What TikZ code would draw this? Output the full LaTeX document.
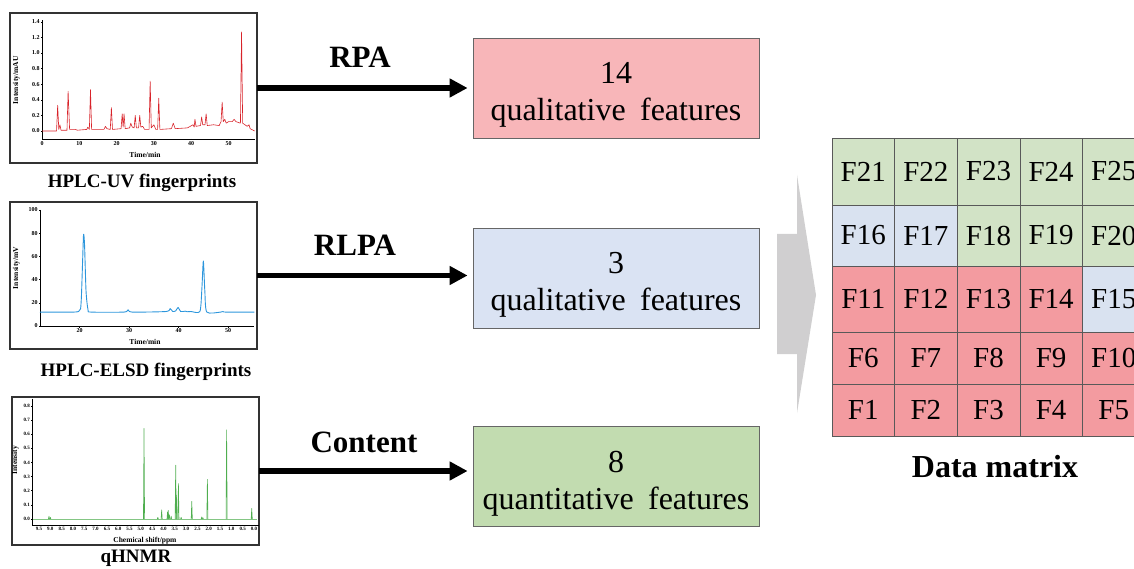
\documentclass[tikz,border=0pt]{standalone}
\usepackage{fontspec}
\setmainfont{Liberation Serif}
\usetikzlibrary{arrows.meta}

\definecolor{boxred}{HTML}{F8B6B9}
\definecolor{boxblue}{HTML}{DAE3F3}
\definecolor{boxgreen}{HTML}{C2DCB0}
\definecolor{mred}{HTML}{F39BA0}
\definecolor{mblue}{HTML}{D9E2F0}
\definecolor{mgreen}{HTML}{D2E3C6}
\definecolor{bigarrow}{HTML}{D0CFD0}
\definecolor{uvred}{HTML}{D8232A}
\definecolor{elsdblue}{HTML}{2C96DC}
\definecolor{nmrgreen}{HTML}{4FAE4F}
\definecolor{frame}{HTML}{333333}

\tikzset{
  panel/.style={draw=frame, line width=1.3pt, minimum width=247pt, minimum height=150pt, inner sep=0pt, outer sep=0pt},
  axisline/.style={line width=0.5pt, black},
  ticklab/.style={font=\fontsize{6}{6.5}\selectfont\bfseries, inner sep=0.6pt},
  nmrlab/.style={font=\fontsize{5}{5.5}\selectfont\bfseries, inner sep=0.6pt},
  axlab/.style={font=\fontsize{7.5}{8}\selectfont\bfseries, inner sep=0pt},
  caption/.style={font=\fontsize{19}{21}\selectfont\bfseries},
  method/.style={font=\fontsize{31}{34}\selectfont\bfseries},
  featbox/.style={draw=black!60, line width=0.8pt, minimum width=286pt, minimum height=100pt, inner sep=0pt},
  feattext/.style={align=center, font=\fontsize{32}{37}\selectfont, inner sep=0pt},
  flow/.style={line width=5.5pt, -{Triangle[length=18pt,width=18pt]}, shorten >=5pt},
  cell/.style={draw=black!65, line width=0.6pt, inner sep=0pt, outer sep=0pt,
               font=\fontsize{29}{32}\selectfont},
}

\begin{document}
\begin{tikzpicture}[x=1pt,y=-1pt]
\useasboundingbox (0,0) rectangle (1134,569);

% ---------- chromatogram / spectrum panels ----------
\node[panel] (uv)   at (133.5,88)   {};
\node[panel, minimum height=147pt] (elsd) at (133.5,275.5) {};
\node[panel, minimum height=148pt] (nmr)  at (135.5,471) {};

% HPLC-UV chromatogram
\begin{scope}[shift={(42,131)}, x=3.73pt, y=78pt]
  \draw[axisline] (0,1.42) -- (0,-0.1) -- (57,-0.1);
  \foreach \v in {0.0,0.2,0.4,0.6,0.8,1.0,1.2,1.4}
    \draw[axisline] (0,\v) -- ++(-1.5pt,0) node[left, ticklab] {\v};
  \foreach \t in {0,10,20,30,40,50}
    \draw[axisline] (\t,-0.1) -- ++(0,-1.5pt) node[below, ticklab] {\t};
  \node[axlab, rotate=90] at (-6.9,0.65) {Intensity/mAU};
  \node[axlab] at (27.6,-0.31) {Time/min};
  \draw[uvred, line width=0.6pt, line join=round] plot coordinates {
    (0,0) (3.9,0) (4.2,0.33) (4.5,0.02) (4.8,0.08) (5.1,0.01) (6.7,0.01) (7.0,0.51) (7.4,0.02)
    (9,0.02) (9.5,0.01) (12,0.02) (12.3,0.05) (12.7,0.02) (13.0,0.53) (13.3,0.02) (16.6,0.02)
    (17,0.06) (17.4,0.03) (18.3,0.02) (18.6,0.30) (18.9,0.02) (21.2,0.03) (21.5,0.22) (21.75,0.05)
    (22,0.22) (22.3,0.03) (23.5,0.04) (23.8,0.10) (24.2,0.05) (24.7,0.04) (25,0.20) (25.3,0.04)
    (25.9,0.04) (26.2,0.20) (26.5,0.05) (27,0.06) (27.5,0.02) (28.7,0.02) (29,0.64) (29.3,0.04)
    (30,0.08) (30.5,0.02) (31,0.02) (31.3,0.42) (31.6,0.02) (34.7,0.03) (35.2,0.10) (35.7,0.03)
    (39,0.04) (40.5,0.08) (40.8,0.05) (41,0.15) (41.3,0.06) (42.5,0.07) (42.8,0.18) (43.1,0.08)
    (43.7,0.08) (44,0.22) (44.3,0.07) (46,0.08) (47.5,0.07) (48,0.12) (48.3,0.37) (48.6,0.12)
    (49,0.15) (49.4,0.10) (50,0.12) (51,0.12) (51.5,0.15) (52,0.12) (53.2,0.10) (53.5,1.27)
    (53.8,0.10) (55,0.06) (55.5,0.08) (55.8,0.03) (57,0.0)};
\end{scope}

% HPLC-ELSD chromatogram
\begin{scope}[shift={(-19.4,326)}, x=4.95pt, y=1.16pt]
  \draw[axisline] (12,100) -- (12,0) -- (55.3,0);
  \foreach \v in {0,20,40,60,80,100}
    \draw[axisline] (12,\v) -- ++(-1.5pt,0) node[left, ticklab] {\v};
  \foreach \t in {20,30,40,50}
    \draw[axisline] (\t,0) -- ++(0,-1.5pt) node[below, ticklab] {\t};
  \node[axlab, rotate=90] at (7.2,50) {Intensity/mV};
  \node[axlab] at (33.2,-13.8) {Time/min};
  \draw[elsdblue, line width=0.9pt, line join=round] plot[smooth, tension=0.4] coordinates {
    (12,12) (16,12) (19.8,12.5) (20.3,20) (20.6,55) (20.8,79) (21.0,70) (21.3,30) (21.7,14)
    (22.3,12) (29,12) (29.8,14) (30.6,12) (37.5,12.5) (38.3,15) (38.8,12.5) (39.4,13) (39.9,16)
    (40.4,12.5) (41.0,12.5) (41.3,12.8) (41.8,12.3) (42.5,12.5) (44.3,12.5) (44.7,32) (45,56)
    (45.3,30) (45.7,12) (48.5,12) (49,12.5) (49.5,12) (55.3,12)};
\end{scope}

% qHNMR spectrum
\begin{scope}[shift={(254,519)}, x=-22.63pt, y=141.5pt]
  \draw[axisline] (9.8,0.85) -- (9.8,-0.042) -- (-0.2,-0.042);
  \foreach \v in {0.0,0.1,0.2,0.3,0.4,0.5,0.6,0.7,0.8}
    \draw[axisline] (9.8,\v) -- ++(-1.5pt,0) node[left, nmrlab] {\v};
  \foreach \p in {9.5,9.0,8.5,8.0,7.5,7.0,6.5,6.0,5.5,5.0,4.5,4.0,3.5,3.0,2.5,2.0,1.5,1.0,0.5,0.0}
    \draw[axisline] (\p,-0.042) -- ++(0,-1.5pt) node[below, nmrlab] {\p};
  \node[axlab, rotate=90] at (10.55,0.417) {Intensity};
  \node[axlab] at (4.82,-0.15) {Chemical shift/ppm};
  \draw[nmrgreen!70, line width=0.5pt] (9.75,0) -- (-0.15,0);
  \foreach \p/\h in {9.06/0.02, 9.0/0.012, 4.86/0.64, 4.25/0.012, 4.08/0.065, 3.82/0.05,
                     3.79/0.06, 3.74/0.03, 3.66/0.02, 3.46/0.38, 3.42/0.17, 3.34/0.25,
                     3.22/0.012, 2.75/0.125, 2.31/0.015, 2.26/0.01, 2.06/0.28, 1.21/0.63, 0.1/0.075}
    \draw[nmrgreen, line width=0.6pt, line join=round] ({\p+0.025},0) -- (\p,\h) -- ({\p-0.025},0);
\end{scope}

% panel captions
\node[caption] (uvcap)   at (142,183) {HPLC-UV fingerprints};
\node[caption] (elsdcap) at (146,372) {HPLC-ELSD fingerprints};
\node[caption] (nmrcap)  at (136,558) {qHNMR};

% ---------- feature boxes ----------
\node[featbox, fill=boxred]   (rpa)     at (616,88)    {};
\node[featbox, fill=boxblue]  (rlpa)    at (616,278)   {};
\node[featbox, fill=boxgreen] (content) at (616,476.5) {};
\node[feattext] (rpatxt) at ([yshift=-7pt]rpa.center)     {14\\qualitative\hspace{0.45em}features};
\node[feattext] (rlptxt) at ([yshift=-7pt]rlpa.center)    {3\\qualitative\hspace{0.45em}features};
\node[feattext] (contxt) at ([yshift=-7pt]content.center) {8\\quantitative\hspace{0.45em}features};

% ---------- method arrows ----------
\draw[flow] (uv.east)   -- (uv.east -| rpa.west);
\draw[flow] (elsd.east) -- (elsd.east -| rlpa.west);
\draw[flow] (nmr.east)  -- (nmr.east -| content.west);
\node[method] (rpalab)  at (360,57)  {RPA};
\node[method] (rlpalab) at (355,245) {RLPA};
\node[method] (conlab)  at (364,442) {Content};

% ---------- merge arrow ----------
\fill[bigarrow] (777,234) -- (797,234) -- (797,175) -- (816,295) -- (797,413)
                -- (797,354) -- (777,354) -- cycle;

% ---------- data matrix ----------
\foreach \r/\top/\h in {5/138/67, 4/205/61, 3/266/66, 2/332/52, 1/384/52} {
  \foreach \c in {1,...,5} {
    \pgfmathtruncatemacro\n{(\r-1)*5+\c}
    \ifnum\n<15 \def\fc{mred}\else\ifnum\n<18 \def\fc{mblue}\else\def\fc{mgreen}\fi\fi
    \node[cell, fill=\fc, minimum width=62.6pt, minimum height=\h pt]
      (f\n) at ({832+62.6*(\c-0.5)},{\top+\h/2}) {F\n};
  }
}
\node[method, font=\fontsize{32}{35}\selectfont\bfseries] (dmlab) at (995,467) {Data matrix};

\end{tikzpicture}
\end{document}
